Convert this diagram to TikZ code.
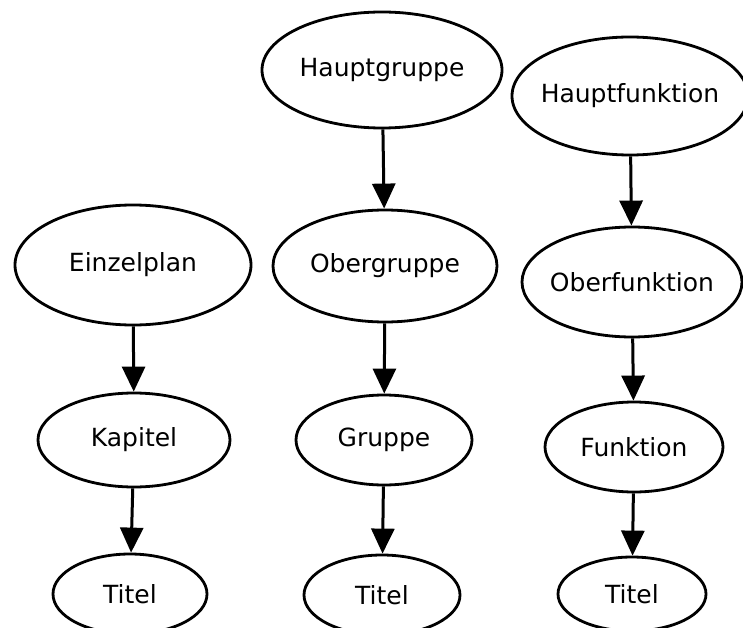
\documentclass[tikz,border=0pt]{standalone}
\usepackage{fontspec}
\setmainfont{DejaVu Sans}
\usetikzlibrary{shapes.geometric,arrows.meta}
\tikzset{
box/.style={draw,ellipse,line width=2.8pt,inner xsep=-20pt,inner ysep=-4pt,font=\fontsize{25}{30}\selectfont},
pfeil/.style={-{Triangle[length=25pt,width=23pt]},line width=3pt}
}
\begin{document}
\begin{tikzpicture}[x=1pt,y=-1pt]
\useasboundingbox (0,0) rectangle (743,628);
\node[box,minimum width=236pt,minimum height=120pt](einzel) at (133,265){Einzelplan};
\node[box,minimum width=192pt,minimum height=94pt](kapitel) at (134,440){Kapitel};
\node[box,minimum width=154pt,minimum height=80pt](titelA) at (130,594){Titel};
\node[box,minimum width=240pt,minimum height=116pt](hauptgr) at (382,70){Hauptgruppe};
\node[box,minimum width=224pt,minimum height=112pt](obergr) at (385,266){Obergruppe};
\node[box,minimum width=176pt,minimum height=90pt](gruppe) at (384,440){Gruppe};
\node[box,minimum width=156pt,minimum height=80pt](titelB) at (382,595){Titel};
\node[box,minimum width=236pt,minimum height=118pt](hauptfk) at (630,96){Hauptfunktion};
\node[box,minimum width=220pt,minimum height=110pt](oberfk) at (632,282){Oberfunktion};
\node[box,minimum width=178pt,minimum height=90pt](funktion) at (634,447){Funktion};
\node[box,minimum width=148pt,minimum height=74pt](titelC) at (632,594){Titel};
\draw[pfeil](einzel) -- (kapitel);
\draw[pfeil](kapitel) -- (titelA);
\draw[pfeil](hauptgr) -- (obergr);
\draw[pfeil](obergr) -- (gruppe);
\draw[pfeil](gruppe) -- (titelB);
\draw[pfeil](hauptfk) -- (oberfk);
\draw[pfeil](oberfk) -- (funktion);
\draw[pfeil](funktion) -- (titelC);
\end{tikzpicture}
\end{document}
